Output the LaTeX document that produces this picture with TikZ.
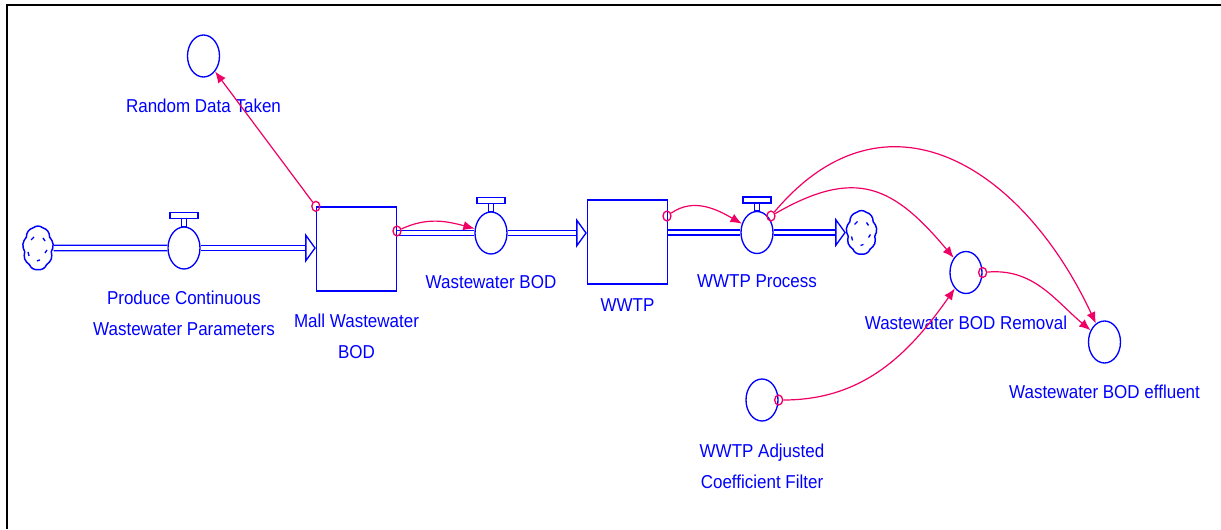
\documentclass[tikz,border=0pt]{standalone}
\usepackage{fontspec}
\setmainfont{Liberation Sans}[FakeStretch=0.91]
\usetikzlibrary{positioning,calc,arrows.meta,shapes.geometric,shapes.symbols}

\definecolor{flowblue}{RGB}{0,0,255}
\definecolor{linkred}{RGB}{240,0,100}

\tikzset{
   stock/.style={draw=flowblue, line width=1pt, minimum width=60pt,
      minimum height=63pt, inner sep=0pt},
   aux/.style={ellipse, draw=flowblue, line width=1pt, minimum width=24pt,
      minimum height=31.5pt, inner sep=0pt},
   valve/.style={aux},
   cloudnode/.style={cloud, cloud puffs=9, cloud puff arc=80, aspect=0.72,
      draw=flowblue, line width=1.1pt, minimum width=23pt, minimum height=33pt,
      inner sep=0pt,
      path picture={\draw[flowblue, line width=1pt]
         ([shift={(-7,8)}]path picture bounding box.center) -- ++(3,3)
         ([shift={(5,10)}]path picture bounding box.center) -- ++(2,-3)
         ([shift={(-10,-4)}]path picture bounding box.center) -- ++(1,-4)
         ([shift={(9,-2)}]path picture bounding box.center) -- ++(-2,-3)
         ([shift={(-1,-13)}]path picture bounding box.center) -- ++(3,1);}},
   pipe/.style={draw=flowblue, line width=1.1pt, double=white,
      double distance=2.75pt},
   pipeend/.style={pipe, -{Triangle[open, length=8pt, width=22pt,
      line width=1pt, fill=white]}},
   tail/.style={ellipse, draw=linkred, line width=1pt, minimum width=6pt,
      minimum height=7.5pt, inner sep=0pt},
   link/.style={draw=linkred, line width=0.9pt,
      -{Latex[length=8.5pt, width=7pt]}},
   lbl/.style={text=flowblue, inner sep=0pt, align=center,
      font=\fontsize{14}{23.25}\selectfont}
}

\begin{document}
\begin{tikzpicture}[x=0.75pt, y=0.75pt]
   \useasboundingbox (0,0) rectangle (1221,-529);
   \draw[line width=1.5pt] (7,-529) -- (7,-5) -- (1221,-5);

   % stocks, flows and clouds
   \node[cloudnode] (src)  at (38,-248)    {};
   \node[valve]     (prodv) at (184,-248)  {};
   \node[stock]     (mall) at (356.5,-249) {};
   \node[valve]     (bodv) at (491,-233)   {};
   \node[stock]     (wwtp) at (627.5,-242) {};
   \node[valve]     (procv) at (757,-232.5) {};
   \node[cloudnode] (sink) at (861.5,-232.5) {};

   % auxiliaries
   \node[aux] (rdt)  at (203.5,-56)   {};
   \node[aux] (rem)  at (966,-272.5)  {};
   \node[aux] (eff)  at (1104.5,-342) {};
   \node[aux] (filt) at (762,-400)    {};

   % valve handles
   \foreach \v in {prodv,bodv,procv}{
      \draw[flowblue, line width=1pt] ($(\v.north)+(-2.5,0)$) rectangle
         ($(\v.north)+(2.5,8)$);
      \draw[flowblue, line width=1pt] ($(\v.north)+(-14,8)$) rectangle
         ($(\v.north)+(14,14)$);
   }

   % pipes
   \draw[pipe]    (src.east) -- (prodv.west);
   \draw[pipeend] (prodv.east) -- (mall.west |- prodv.east);
   \draw[pipe]    (mall.east |- bodv.west) -- (bodv.west);
   \draw[pipeend] (bodv.east) -- (wwtp.west |- bodv.east);
   \draw[pipe]    (wwtp.east |- procv.west) -- (procv.west);
   \draw[pipeend] (procv.east) -- (sink.west |- procv.east);

   % labels
   \node[lbl, below=16pt of rdt]    (rdtlbl)  {Random Data Taken};
   \node[lbl, below=15.75pt of prodv] (prodlbl) {Produce Continuous\\Wastewater Parameters};
   \node[lbl, below=16.7pt of mall] (malllbl) {Mall Wastewater\\BOD};
   \node[lbl, below=15.2pt of bodv] (bodlbl)  {Wastewater BOD};
   \node[lbl, below=10pt of wwtp]   (wwtplbl) {WWTP};
   \node[lbl, below=15pt of procv]  (proclbl) {WWTP Process};
   \node[lbl, below=16.4pt of rem]  (remlbl)  {Wastewater BOD Removal};
   \node[lbl, below=15.6pt of eff]  (efflbl)  {Wastewater BOD effluent};
   \node[lbl, below=16.3pt of filt] (filtlbl) {WWTP Adjusted\\Coefficient Filter};

   % connector tails
   \node[tail] (ta) at (mall.north west) {};
   \node[tail] (tb) at (397,-231) {};
   \node[tail] (tc) at (667,-216) {};
   \node[tail] (td) at (771,-216) {};
   \node[tail] (te) at (rem.east)  {};
   \node[tail] (tf) at (filt.east) {};

   % connectors
   \draw[link] (ta) -- (rdt);
   \draw[link] (tb) to[out=25, in=165] (bodv);
   \draw[link] (tc) to[out=35, in=150] (procv);
   \draw[link] (td) to[out=30, in=130, looseness=1.3] (rem);
   \draw[link] (td) to[out=50, in=115, looseness=1.3] (eff);
   \draw[link] (te) to[out=5, in=140] (eff);
   \draw[link] (tf) to[out=0, in=235] (rem);
\end{tikzpicture}
\end{document}
